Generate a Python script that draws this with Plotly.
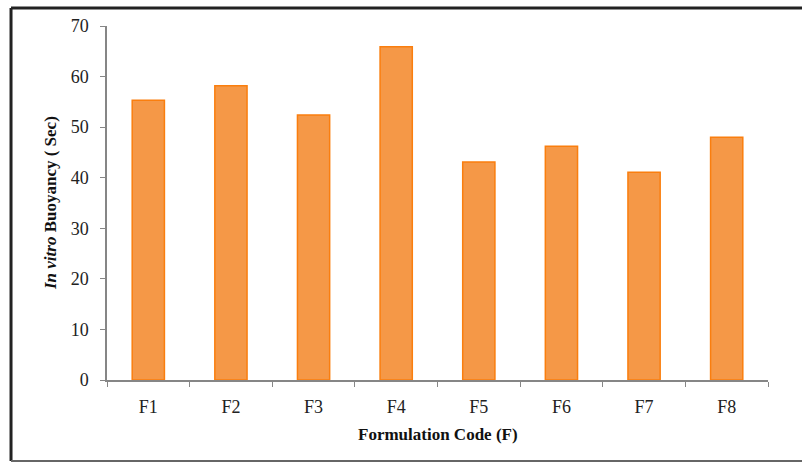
import plotly.graph_objects as go

categories = ["F1", "F2", "F3", "F4", "F5", "F6", "F7", "F8"]
buoyancy = [55.3, 58.2, 52.4, 65.9, 43.1, 46.2, 41.1, 48.0]
y_ticks = [0, 10, 20, 30, 40, 50, 60, 70]

font_family = "Liberation Serif, Times New Roman, serif"

fig = go.Figure(
    go.Bar(
        x=categories,
        y=buoyancy,
        width=0.39,
        marker=dict(color="#F59847", line=dict(color="#FA7E0E", width=1.5)),
    )
)

fig.update_layout(
    width=802,
    height=462,
    margin=dict(l=107, r=34, t=26, b=82),
    paper_bgcolor="white",
    plot_bgcolor="white",
    showlegend=False,
    font=dict(family=font_family, size=18, color="#222222"),
)

fig.update_xaxes(
    type="category",
    range=[-0.5, 7.5],
    showline=True,
    linecolor="#868686",
    linewidth=1.5,
    ticks="outside",
    tickson="boundaries",
    ticklen=5,
    tickcolor="#868686",
    showgrid=False,
    tickfont=dict(size=18),
    ticklabelstandoff=10,
)
fig.update_yaxes(
    range=[0, 70],
    tickvals=y_ticks,
    showline=True,
    linecolor="#868686",
    linewidth=1.5,
    ticks="outside",
    ticklen=5,
    tickcolor="#868686",
    showgrid=False,
    zeroline=False,
    tickfont=dict(size=18),
    ticklabelstandoff=8,
)

fig.add_annotation(
    text="<b><i>In vitro</i> Buoyancy ( Sec)</b>",
    xref="paper", yref="paper",
    x=-0.0862, y=0.5,
    xanchor="center", yanchor="middle",
    textangle=-90,
    showarrow=False,
    font=dict(size=17, family=font_family, color="#111111"),
)
fig.add_annotation(
    text="<b>Formulation Code (F)</b>",
    xref="paper", yref="paper",
    x=0.5, y=-0.155,
    xanchor="center", yanchor="middle",
    showarrow=False,
    font=dict(size=17, family=font_family, color="#111111"),
)

# outer frame
fig.add_shape(type="line", xref="paper", yref="paper",
              x0=-0.1452, x1=1.06, y0=1.0508, y1=1.0508,
              line=dict(color="#222222", width=3))
fig.add_shape(type="line", xref="paper", yref="paper",
              x0=-0.1452, x1=-0.1452, y0=1.0508, y1=-0.2288,
              line=dict(color="#222222", width=3))
fig.add_shape(type="line", xref="paper", yref="paper",
              x0=-0.1452, x1=1.06, y0=-0.2288, y1=-0.2288,
              line=dict(color="#666666", width=2))

fig.write_html("out.html")
